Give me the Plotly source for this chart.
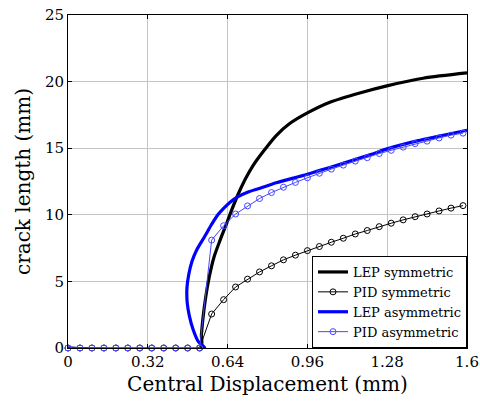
import plotly.graph_objects as go

# ---- data ----
pid_x = [round(0.048 * i, 3) for i in range(34)]

pid_sym_y = [0.0] * 12 + [2.55, 3.63, 4.58, 5.17, 5.71, 6.17, 6.62, 6.97,
                          7.31, 7.62, 7.94, 8.24, 8.56, 8.82, 9.11, 9.37,
                          9.62, 9.86, 10.06, 10.29, 10.50, 10.69]

pid_asym_y = [0.0] * 12 + [8.10, 9.18, 10.06, 10.67, 11.22, 11.67, 12.07, 12.43,
                           12.78, 13.12, 13.43, 13.73, 14.03, 14.29, 14.60, 14.84,
                           15.08, 15.34, 15.53, 15.77, 15.98, 16.13]

lep_sym_x = [0, 0.531, 0.535, 0.541, 0.552, 0.566, 0.585, 0.610, 0.633, 0.652,
             0.680, 0.710, 0.742, 0.789, 0.835, 0.889, 0.960, 1.050, 1.170,
             1.283, 1.424, 1.600]
lep_sym_y = [0, 0, 1.0, 2.2, 3.8, 5.3, 6.8, 8.1, 9.2, 10.15,
             11.45, 12.65, 13.7, 14.9, 15.95, 16.85, 17.65, 18.45, 19.15,
             19.7, 20.25, 20.65]

lep_asym_x = [0, 0.548, 0.522, 0.502, 0.487, 0.478, 0.477, 0.484, 0.497, 0.517,
              0.548, 0.575, 0.601, 0.625, 0.650, 0.680, 0.720, 0.770, 0.835,
              0.960, 1.100, 1.210, 1.280, 1.400, 1.500, 1.600]
lep_asym_y = [0, 0, 0.5, 1.37, 2.37, 3.4, 4.5, 5.5, 6.5, 7.4,
              8.37, 9.25, 10.0, 10.5, 10.95, 11.35, 11.7, 12.0, 12.4,
              13.05, 13.85, 14.5, 14.95, 15.55, 15.95, 16.35]

x_ticks = [0, 0.32, 0.64, 0.96, 1.28, 1.6]
x_tick_text = ["0", "0.32", "0.64", "0.96", "1.28", "1.6"]
y_ticks = [0, 5, 10, 15, 20, 25]

FONT = "DejaVu Serif, Liberation Serif, serif"
BLUE = "#0000ff"
LIGHT_BLUE = "#4646ff"

fig = go.Figure()
fig.add_trace(go.Scatter(
    x=lep_sym_x, y=lep_sym_y, mode="lines", name="LEP symmetric",
    line=dict(color="black", width=3.2, shape="spline", smoothing=0.8)))
fig.add_trace(go.Scatter(
    x=pid_x, y=pid_sym_y, mode="lines+markers", name="PID symmetric",
    line=dict(color="black", width=1),
    marker=dict(symbol="circle-open", size=6, color="black", line=dict(width=1)),
    cliponaxis=False))
fig.add_trace(go.Scatter(
    x=lep_asym_x, y=lep_asym_y, mode="lines", name="LEP asymmetric",
    line=dict(color=BLUE, width=3.2, shape="spline", smoothing=0.8)))
fig.add_trace(go.Scatter(
    x=pid_x, y=pid_asym_y, mode="lines+markers", name="PID asymmetric",
    line=dict(color=LIGHT_BLUE, width=1),
    marker=dict(symbol="circle-open", size=6, color=LIGHT_BLUE, line=dict(width=1)),
    cliponaxis=False))

axis_common = dict(
    showgrid=True, gridcolor="#c4c4c4", gridwidth=1,
    showline=True, linecolor="black", linewidth=1, mirror="ticks",
    ticks="inside", ticklen=4, tickcolor="black",
    zeroline=False, automargin=False,
    tickfont=dict(family=FONT, size=15, color="black"),
)

fig.update_layout(
    width=480, height=407,
    margin=dict(l=68, r=13, t=15, b=59),
    paper_bgcolor="white", plot_bgcolor="white",
    font=dict(family=FONT, color="black"),
    showlegend=True,
    legend=dict(
        x=1, y=0, xanchor="right", yanchor="bottom",
        bgcolor="white", bordercolor="black", borderwidth=1,
        font=dict(family=FONT, size=13, color="black"),
        itemwidth=30, tracegroupgap=0,
    ),
    xaxis=dict(range=[0, 1.6], tickvals=x_ticks, ticktext=x_tick_text,
               title=dict(text="Central Displacement (mm)",
                          font=dict(family=FONT, size=20), standoff=6),
               **axis_common),
    yaxis=dict(range=[0, 25], tickvals=y_ticks,
               title=dict(text="crack length (mm)",
                          font=dict(family=FONT, size=20), standoff=8),
               **axis_common),
)

fig.write_html("out.html")
